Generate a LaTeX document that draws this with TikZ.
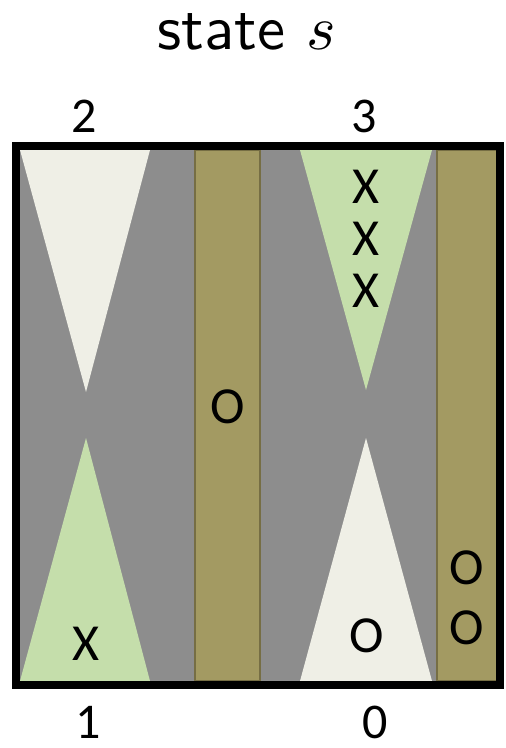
\documentclass[tikz,border=0pt]{standalone}
\usepackage{fontspec}
\newfontfamily\boardfont{Carlito}
\usepackage{xcolor}
\definecolor{felt}{RGB}{141,141,141}
\definecolor{olive}{RGB}{163,154,98}
\definecolor{oliveline}{RGB}{118,110,68}
\definecolor{pale}{RGB}{239,239,230}
\definecolor{sage}{RGB}{197,222,171}
\usetikzlibrary{positioning}

\begin{document}
\begin{tikzpicture}[x=0.5pt,y=-0.5pt,
  piece/.style={font=\boardfont\fontsize{26}{30}\selectfont,inner sep=0pt},
  pointlabel/.style={font=\boardfont\fontsize{25}{30}\selectfont,inner sep=0pt},
  bar/.style={fill=olive,draw=oliveline,line width=0.8pt}]
\useasboundingbox (0,0) rectangle (506,748);

% title
\node[anchor=base,scale=3.15,inner sep=0pt] (title) at (247,50) {\sffamily state $s$};

% board
\fill[felt] (16,146) rectangle (500,685);
\fill[pale] (20,150) -- (150,150) -- (86,392) -- cycle;
\fill[sage] (300,150) -- (432,150) -- (366,390) -- cycle;
\fill[sage] (20,681) -- (150,681) -- (86,438) -- cycle;
\fill[pale] (300,681) -- (432,681) -- (366,438) -- cycle;
\filldraw[bar] (195,150) rectangle (260,681);
\filldraw[bar] (437,150) rectangle (497,681);
\draw[line width=4pt] (16,146) rectangle (500,685);

% point numbers
\node[pointlabel] (p2) at (84,116) {2};
\node[pointlabel] (p3) at (364,116) {3};
\node[pointlabel] (p1) at (88,722) {1};
\node[pointlabel] (p0) at (375,722) {0};

% checkers
\node[piece] (x1) at (86,644) {X};
\foreach \y [count=\i] in {187,239,291}
  \node[piece] (x3\i) at (366,\y) {X};
\node[piece] (obar) at (228,407) {O};
\node[piece] (o0) at (367,636) {O};
\node[piece] (off1) at (467,568) {O};
\node[piece] (off2) at (467,628) {O};
\end{tikzpicture}
\end{document}
